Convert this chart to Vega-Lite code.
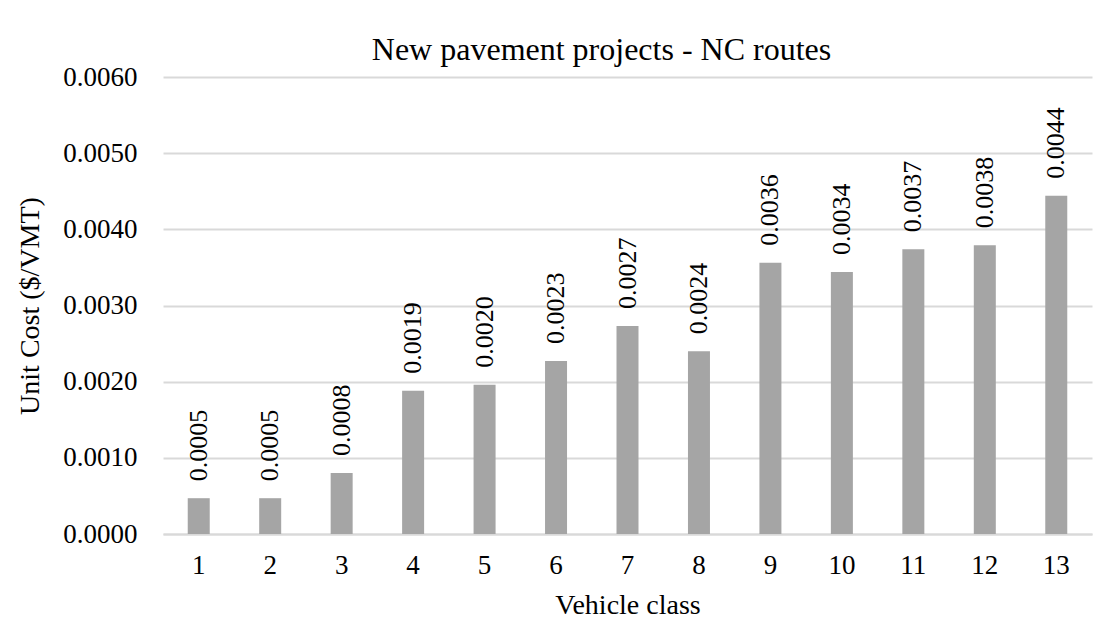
{
  "$schema": "https://vega.github.io/schema/vega-lite/v6.json",
  "width": 929,
  "height": 457,
  "autosize": {"type": "none"},
  "padding": {"left": 163, "top": 77, "right": 20, "bottom": 89},
  "background": "white",
  "config": {
    "font": "Liberation Serif",
    "view": {"stroke": null}
  },
  "title": {
    "text": "New pavement projects - NC routes",
    "font": "Liberation Serif",
    "fontSize": 32,
    "fontWeight": "normal",
    "color": "#000000",
    "baseline": "alphabetic",
    "offset": -29,
    "dx": -26
  },
  "data": {
    "values": [
      {"vehicle_class": "1", "unit_cost": 0.00047},
      {"vehicle_class": "2", "unit_cost": 0.00047},
      {"vehicle_class": "3", "unit_cost": 0.0008},
      {"vehicle_class": "4", "unit_cost": 0.00188},
      {"vehicle_class": "5", "unit_cost": 0.00196},
      {"vehicle_class": "6", "unit_cost": 0.00227},
      {"vehicle_class": "7", "unit_cost": 0.00273},
      {"vehicle_class": "8", "unit_cost": 0.0024},
      {"vehicle_class": "9", "unit_cost": 0.00356},
      {"vehicle_class": "10", "unit_cost": 0.00344},
      {"vehicle_class": "11", "unit_cost": 0.00374},
      {"vehicle_class": "12", "unit_cost": 0.00379},
      {"vehicle_class": "13", "unit_cost": 0.00444}
    ]
  },
  "encoding": {
    "x": {
      "field": "vehicle_class",
      "type": "ordinal",
      "sort": null,
      "scale": {"paddingInner": 0, "paddingOuter": 0},
      "axis": {
        "title": "Vehicle class",
        "titleFont": "Liberation Serif",
        "titleFontSize": 28,
        "titleFontWeight": "normal",
        "titleColor": "#000000",
        "titlePadding": 13,
        "labelFont": "Liberation Serif",
        "labelFontSize": 27,
        "labelColor": "#000000",
        "labelAngle": 0,
        "labelPadding": 18,
        "ticks": false,
        "domainColor": "#d9d9d9",
        "domainWidth": 2
      }
    },
    "y": {
      "field": "unit_cost",
      "type": "quantitative",
      "scale": {"domain": [0, 0.006]},
      "axis": {
        "title": "Unit Cost ($/VMT)",
        "titleFont": "Liberation Serif",
        "titleFontSize": 28,
        "titleFontWeight": "normal",
        "titleColor": "#000000",
        "titlePadding": 18,
        "labelFont": "Liberation Serif",
        "labelFontSize": 27,
        "labelColor": "#000000",
        "labelPadding": 26,
        "format": ".4f",
        "values": [0, 0.001, 0.002, 0.003, 0.004, 0.005, 0.006],
        "ticks": false,
        "domain": false,
        "grid": true,
        "gridColor": "#d9d9d9",
        "gridWidth": 2
      }
    }
  },
  "layer": [
    {
      "mark": {"type": "bar", "width": 22, "color": "#a5a5a5"}
    },
    {
      "mark": {
        "type": "text",
        "angle": 270,
        "align": "left",
        "baseline": "middle",
        "dx": 17,
        "font": "Liberation Serif",
        "fontSize": 26,
        "color": "#000000"
      },
      "encoding": {
        "text": {"field": "unit_cost", "type": "quantitative", "format": ".4f"}
      }
    }
  ]
}
